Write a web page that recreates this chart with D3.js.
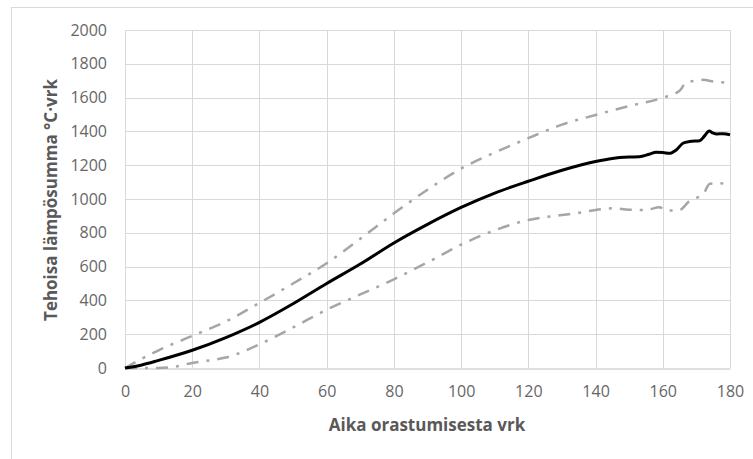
<!DOCTYPE html>
<html>
<head>
<meta charset="utf-8">
<script src="https://cdn.jsdelivr.net/npm/d3@7"></script>
<style>
  body { margin: 0; background: #fff; }
  text { font-family: "Open Sans", sans-serif; }
</style>
</head>
<body>
<svg id="svgHolder"></svg>
<script>
let width = 753;
let height = 459;
let margin = { top: 30, right: 23, bottom: 91, left: 125 };

// days after emergence
let meanDays = [0, 5, 10, 20, 30, 40, 50, 60, 70, 80, 90, 100, 110, 120, 130, 140, 145, 150, 153, 156, 158, 160, 162, 164, 166, 168, 171, 172.5, 173.8, 175, 176, 178, 180];
let meanSum  = [0, 18, 45, 105, 180, 270, 380, 500, 615, 740, 850, 950, 1035, 1105, 1170, 1222, 1240, 1248, 1250, 1265, 1276, 1275, 1270, 1290, 1330, 1340, 1345, 1375, 1402, 1390, 1385, 1386, 1380];

let upperDays = [0, 5, 10, 20, 30, 40, 50, 60, 70, 80, 90, 100, 110, 120, 130, 140, 150, 160, 165, 167, 170, 172, 175, 180];
let upperSum  = [0, 55, 105, 190, 275, 385, 500, 620, 765, 915, 1055, 1180, 1275, 1360, 1440, 1497, 1550, 1600, 1640, 1690, 1700, 1705, 1695, 1688];

let lowerDays = [0, 5, 10, 15, 20, 25, 30, 40, 50, 60, 70, 80, 90, 100, 110, 120, 130, 135, 140, 145, 150, 155, 159, 161, 165, 168, 172, 174, 177, 180];
let lowerSum  = [0, 0, 0, 8, 30, 45, 62, 140, 240, 345, 435, 525, 625, 730, 815, 876, 905, 918, 935, 945, 937, 935, 951, 931, 935, 990, 1028, 1090, 1093, 1079];

let xTicks = [0, 20, 40, 60, 80, 100, 120, 140, 160, 180];
let yTicks = [0, 200, 400, 600, 800, 1000, 1200, 1400, 1600, 1800, 2000];

let svg = d3.select('#svgHolder')
    .attr('width', width)
    .attr('height', height);

// chart frame
svg.append('rect')
    .attr('x', 11.5)
    .attr('y', 7.5)
    .attr('width', 760)
    .attr('height', 480)
    .attr('fill', 'none')
    .attr('stroke', '#d9d9d9');

let xScale = d3.scaleLinear()
    .domain([0, 180])
    .range([margin.left, width - margin.right]);

let yScale = d3.scaleLinear()
    .domain([0, 2000])
    .range([height - margin.bottom, margin.top]);

// gridlines
svg.append('g')
    .selectAll('line')
    .data(yTicks.slice(1))
    .enter()
    .append('line')
    .attr('x1', xScale(0))
    .attr('x2', xScale(180))
    .attr('y1', (d) => Math.round(yScale(d)) + 0.5)
    .attr('y2', (d) => Math.round(yScale(d)) + 0.5)
    .attr('stroke', '#d9d9d9');

svg.append('g')
    .selectAll('line')
    .data(xTicks)
    .enter()
    .append('line')
    .attr('x1', (d) => Math.round(xScale(d)) + 0.5)
    .attr('x2', (d) => Math.round(xScale(d)) + 0.5)
    .attr('y1', yScale(0))
    .attr('y2', yScale(2000))
    .attr('stroke', '#d9d9d9');

// axes
let xAxis = d3.axisBottom(xScale)
    .tickValues(xTicks)
    .tickFormat(d3.format('d'))
    .tickSize(0)
    .tickPadding(17);

let yAxis = d3.axisLeft(yScale)
    .tickValues(yTicks)
    .tickFormat(d3.format('d'))
    .tickSize(0)
    .tickPadding(18);

let gx = svg.append('g')
    .attr('transform', 'translate(0,' + (Math.round(yScale(0)) + 0.5) + ')')
    .call(xAxis);
gx.select('.domain').attr('stroke', '#bfbfbf');

let gy = svg.append('g')
    .attr('transform', 'translate(' + margin.left + ',0)')
    .call(yAxis);
gy.select('.domain').remove();

svg.selectAll('.tick text')
    .attr('fill', '#666')
    .style('font-size', '16px')
    .style('font-family', '"Open Sans", sans-serif');

// lines
let line = d3.line()
    .x((d) => xScale(d[0]))
    .y((d) => yScale(d[1]))
    .curve(d3.curveMonotoneX);

svg.append('path')
    .datum(d3.zip(upperDays, upperSum))
    .attr('d', line)
    .attr('fill', 'none')
    .attr('stroke', '#a6a6a6')
    .attr('stroke-width', 2.5)
    .attr('stroke-dasharray', '12,8,3,8');

svg.append('path')
    .datum(d3.zip(lowerDays, lowerSum))
    .attr('d', line)
    .attr('fill', 'none')
    .attr('stroke', '#a6a6a6')
    .attr('stroke-width', 2.5)
    .attr('stroke-dasharray', '12,8,3,8');

svg.append('path')
    .datum(d3.zip(meanDays, meanSum))
    .attr('d', line)
    .attr('fill', 'none')
    .attr('stroke', '#000')
    .attr('stroke-width', 3)
    .attr('stroke-linejoin', 'round');

// axis titles
svg.append('text')
    .attr('x', 427)
    .attr('y', 431)
    .attr('text-anchor', 'middle')
    .attr('fill', '#595959')
    .style('font-size', '17px')
    .style('font-weight', 'bold')
    .text('Aika orastumisesta vrk');

svg.append('text')
    .attr('transform', 'translate(57,200) rotate(-90)')
    .attr('text-anchor', 'middle')
    .attr('fill', '#595959')
    .style('font-size', '17px')
    .style('font-weight', 'bold')
    .text('Tehoisa lämpösumma °C·vrk');
</script>
</body>
</html>
